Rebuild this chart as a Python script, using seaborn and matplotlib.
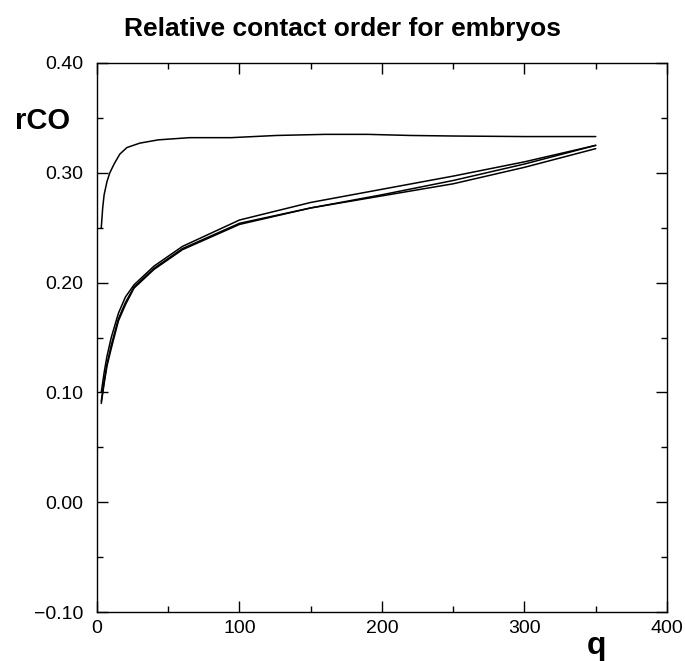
import matplotlib
matplotlib.use("Agg")
import matplotlib.pyplot as plt
import seaborn as sns
import pandas as pd
from matplotlib.ticker import MultipleLocator, FuncFormatter

# Data
q_top = [3, 4, 5, 7, 9, 12, 16, 21, 30, 43, 65, 94, 126, 160, 190, 220, 250, 300, 350]
rco_top = [0.250, 0.268, 0.280, 0.292, 0.300, 0.308, 0.317, 0.323, 0.327, 0.330, 0.332, 0.332, 0.334, 0.335, 0.335, 0.334, 0.3335, 0.333, 0.333]

q_low = [3, 5, 7, 10, 15, 20, 26, 40, 60, 100, 150, 200, 250, 300, 350]
rco_a = [0.100, 0.118, 0.133, 0.150, 0.172, 0.187, 0.198, 0.215, 0.233, 0.257, 0.273, 0.285, 0.297, 0.310, 0.325]
rco_b = [0.090, 0.108, 0.124, 0.140, 0.165, 0.180, 0.195, 0.212, 0.230, 0.253, 0.268, 0.280, 0.293, 0.308, 0.325]
rco_c = [0.092, 0.110, 0.126, 0.143, 0.167, 0.182, 0.196, 0.213, 0.231, 0.254, 0.268, 0.279, 0.290, 0.305, 0.322]

sns.set_style("ticks")
plt.rcParams['font.family'] = ['Liberation Sans', 'DejaVu Sans']
plt.rcParams['text.color'] = 'black'
plt.rcParams['xtick.color'] = 'black'
plt.rcParams['ytick.color'] = 'black'

fig = plt.figure(figsize=(6.85, 6.61), dpi=100)
ax = fig.add_axes([0.1416, 0.0741, 0.8321, 0.8306])

sns.lineplot(x=q_top, y=rco_top, ax=ax, color='black', lw=1.1)
for ys in (rco_a, rco_b, rco_c):
    sns.lineplot(x=q_low, y=ys, ax=ax, color='black', lw=1.1)

ax.set_xlim(0, 400)
ax.set_ylim(-0.10, 0.40)
ax.xaxis.set_major_locator(MultipleLocator(100))
ax.xaxis.set_minor_locator(MultipleLocator(50))
ax.yaxis.set_major_locator(MultipleLocator(0.1))
ax.yaxis.set_minor_locator(MultipleLocator(0.05))
ax.yaxis.set_major_formatter(FuncFormatter(lambda v, p: ('%.2f' % v).replace('-', '\u2212') if abs(v) > 1e-9 else '0.00'))

ax.tick_params(which='both', direction='in', top=True, right=True, color='black', width=1)
ax.tick_params(which='major', length=8, labelsize=14, labelcolor='black')
ax.tick_params(which='minor', length=4)
ax.tick_params(axis='y', pad=10)
ax.tick_params(axis='x', pad=6)
for s in ax.spines.values():
    s.set_visible(True)
    s.set_color('black')
    s.set_linewidth(1)

ax.set_xlabel('')
ax.set_ylabel('')
ax.text(-0.095, 0.894, 'rCO', transform=ax.transAxes, fontsize=21, fontweight='bold', ha='center', va='center', color='black')
ax.text(0.877, -0.062, 'q', transform=ax.transAxes, fontsize=23, fontweight='bold', ha='center', va='center', color='black')
fig.text(0.50, 0.956, 'Relative contact order for embryos', fontsize=19, fontweight='bold', ha='center', va='center', color='black')

fig.savefig('out.png', dpi=100)
